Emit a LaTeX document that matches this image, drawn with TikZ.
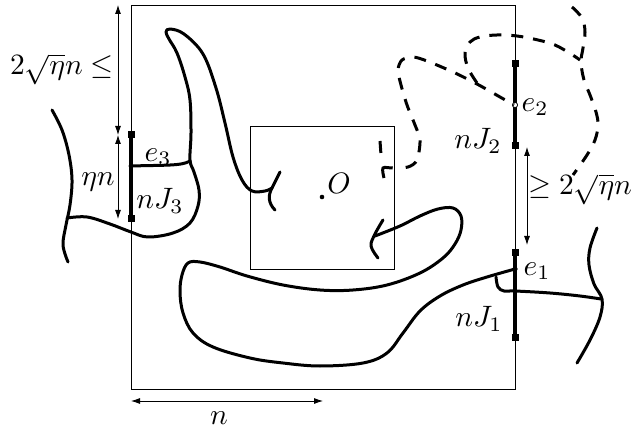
\documentclass[tikz,border=0pt]{standalone}
\usetikzlibrary{arrows.meta}
\begin{document}
\begin{tikzpicture}[x=1pt,y=-1pt,
  boxline/.style={line width=0.9pt},
  curve/.style={line width=3pt, line cap=round, line join=round},
  dcurve/.style={line width=3pt, line cap=butt, dash pattern=on 12pt off 10pt},
  seg/.style={line width=3.6pt},
  endsq/.style={fill=black, minimum size=7pt, inner sep=0pt, draw=none, rectangle},
  dim/.style={line width=0.8pt, {Latex[length=9pt,width=6pt]}-{Latex[length=9pt,width=6pt]}},
  lbl/.style={scale=2.95, inner sep=0pt}
]
\useasboundingbox (0,0) rectangle (634,430);

% boxes
\draw[boxline] (131,5) rectangle (515,389);
\draw[boxline] (250,126) rectangle (394,269);
\fill (322,197) circle (2.3);
\node[lbl] (O) at (339,183) {$O$};

% J segments
\coordinate (j3t) at (131,135); \coordinate (j3b) at (131,219);
\coordinate (j2t) at (515,64);  \coordinate (j2b) at (515,146);
\coordinate (j1t) at (515,253); \coordinate (j1b) at (515,337);
\draw[seg] (j3t) -- (j3b);
\draw[seg] (j2t) -- (j2b);
\draw[seg] (j1t) -- (j1b);
\node[endsq] at (j3t) {}; \node[endsq] at (j3b) {};
\node[endsq] at (j2t) {}; \node[endsq] at (j2b) {};
\node[endsq] at (j1t) {}; \node[endsq] at (j1b) {};

% dimension arrows
\coordinate (topL) at (118,5); \coordinate (midL) at (118,135); \coordinate (botL) at (118,219);
\draw[dim] (midL) -- (topL);
\draw[dim] (midL) -- (botL);
\coordinate (rA) at (527,147); \coordinate (rB) at (527,245);
\draw[dim] (rA) -- (rB);
\coordinate (bA) at (131,401); \coordinate (bB) at (323,401);
\draw[dim] (bA) -- (bB);

% labels
\node[lbl] (l1) at (62,69) {$2\sqrt{\eta}n\leq$};
\node[lbl] (l2) at (98,182) {$\eta n$};
\node[lbl] (l3) at (580,189) {$\geq 2\sqrt{\eta}n$};
\node[lbl] (ln) at (219,418) {$n$};
\node[lbl] (le3) at (158,157) {$e_3$};
\node[lbl] (lj3) at (160,201) {$nJ_3$};
\node[lbl] (le2) at (535,107) {$e_2$};
\node[lbl] (lj2) at (478,141) {$nJ_2$};
\node[lbl] (le1) at (537,271) {$e_1$};
\node[lbl] (lj1) at (479,319) {$nJ_1$};

% left curves
\draw[curve] plot[smooth, tension=0.6] coordinates {(52,110) (62,130) (69,155) (72,180) (70,205) (66,225) (63,245) (68,262)};
\draw[curve] plot[smooth, tension=0.6] coordinates {(67,218) (87,217) (110,224) (131,232) (148,237) (173,233) (190,223) (198,206) (199,190) (194,172) (190,160) (191,133) (190,100) (185,77) (177,53) (169,39) (166,32) (170,29) (184,34) (203,54) (216,88) (225,123) (233,157) (242,180) (252,191) (265,191) (272,188)};
\draw[curve] (131,166) .. controls (165,165) and (182,166) .. (190,161);
\draw[curve] (272,188) -- (280,172);
\draw[curve] (272,188) .. controls (268,195) and (268,203) .. (275,210);

% lower loop
\draw[curve] plot[smooth, tension=0.6] coordinates {(383,220) (375,234) (371,246) (378,258)};
\draw[curve] plot[smooth, tension=0.6] coordinates {(375,236) (400,226) (420,216) (438,209) (453,208) (461,216) (461,230) (455,244) (443,258) (420,273) (387,285) (353,290) (320,290) (283,285) (247,276) (220,267) (200,262) (188,263) (182,275) (180,292) (183,313) (193,333) (213,347) (250,358) (283,363) (320,366) (363,363) (387,353) (403,333) (420,311) (440,296) (463,285) (487,277) (515,269)};
\draw[curve] plot[smooth, tension=0.6] coordinates {(496,277) (498,287) (504,291) (515,291) (550,293) (580,296) (601,299)};
\draw[curve] plot[smooth, tension=0.6] coordinates {(597,228) (590,248) (589,265) (594,284) (602,299) (600,317) (590,340) (577,363)};

% e points
\fill (131,166) circle (2.4);
\fill (515,269) circle (2.6);
\draw[line width=0.8pt, fill=white] (515,105) circle (2.6);

% dashed curves
\draw[dcurve] (380,141) -- (381,155);
\draw[dcurve, dash pattern=on 20pt off 13pt on 12pt off 10pt on 12pt off 10pt on 12pt off 10pt on 12pt off 10pt on 12pt off 10pt on 12pt off 10pt on 12pt off 10pt on 12pt off 10pt on 12pt off 10pt on 12pt off 10pt on 12pt off 10pt] plot[smooth, tension=0.5] coordinates {(384,178) (383,168) (393,168) (408,167) (417,160) (420,140) (415,125) (407,105) (401,85) (398,70) (402,60) (413,57) (427,61) (453,72) (477,84) (500,97) (514,105)};
\draw[dcurve] plot[smooth, tension=0.6] coordinates {(477,83) (468,68) (465,53) (470,42) (480,37) (497,35) (517,36) (538,40) (555,45) (571,54) (580,60)};
\draw[dcurve] plot[smooth, tension=0.6] coordinates {(572,7) (582,18) (585,32) (583,48) (581,62) (584,80) (590,95) (596,112) (598,125) (595,140) (587,155) (573,175)};
\end{tikzpicture}
\end{document}
